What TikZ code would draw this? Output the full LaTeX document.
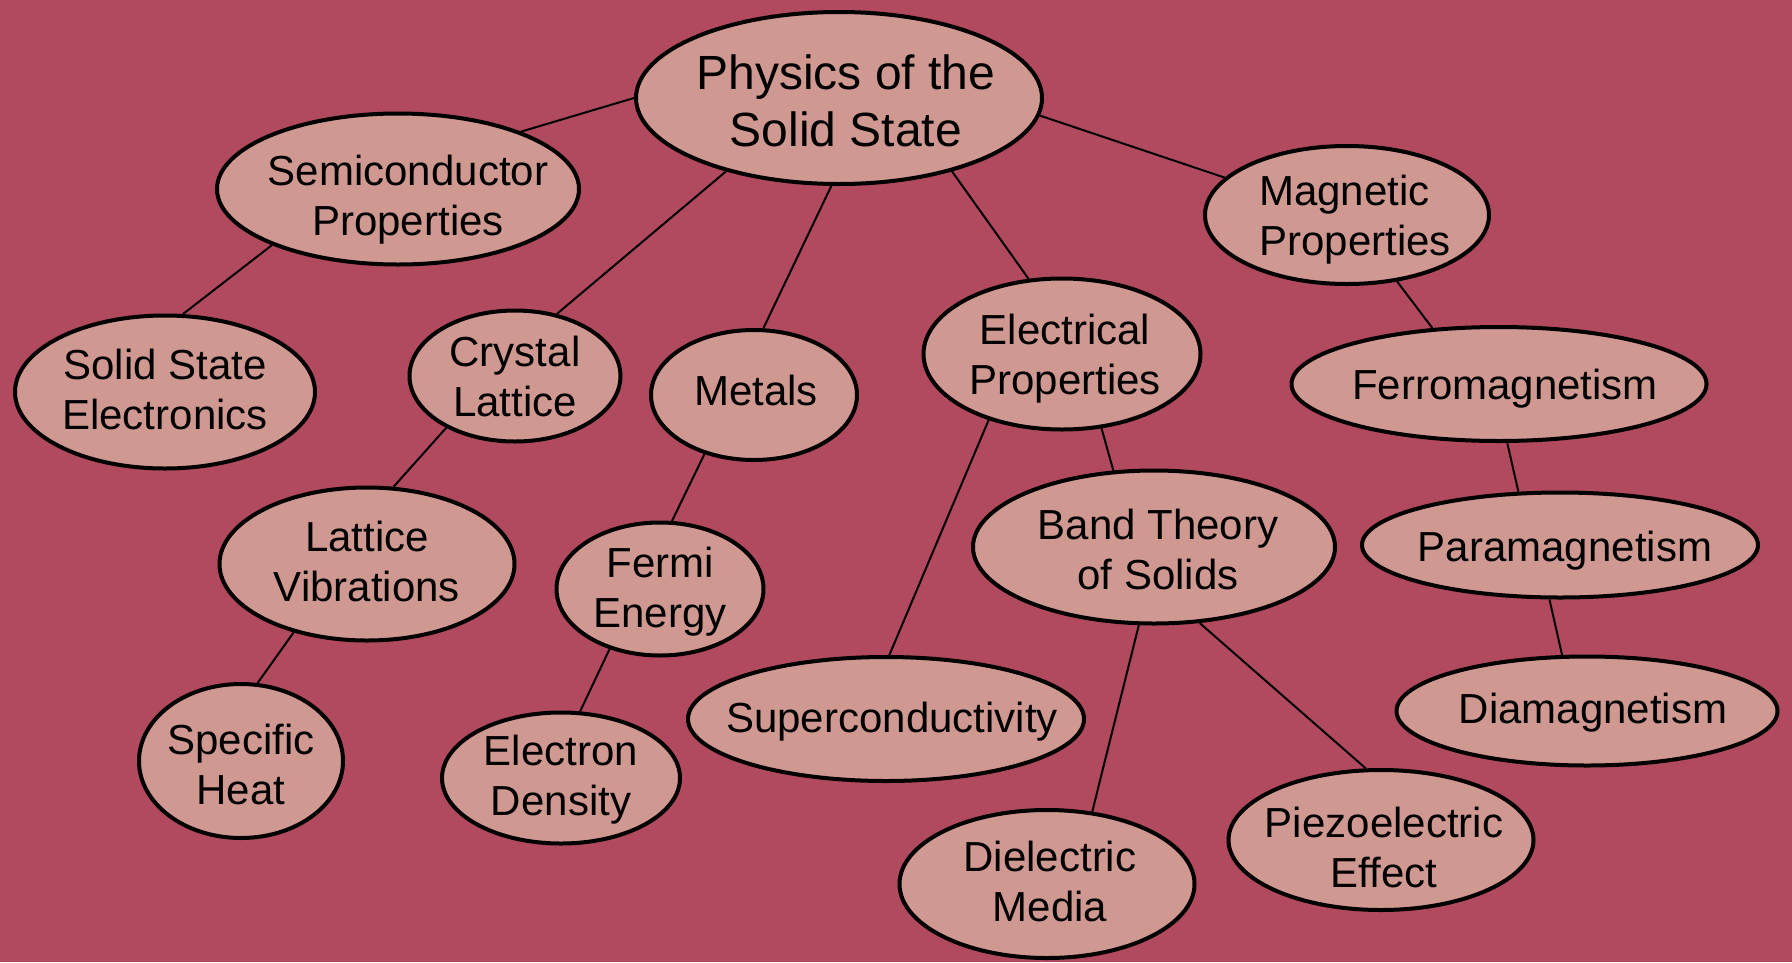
\documentclass[tikz,border=0pt]{standalone}
\usepackage{fontspec}
\setmainfont{Liberation Sans}
\usepackage{tikz}
\usetikzlibrary{shapes.geometric,backgrounds}
\definecolor{wine}{HTML}{B14A5E}
\definecolor{rosefill}{HTML}{CF9891}
\tikzset{
  % ellipser
  topic/.style={ellipse,draw=black,fill=rosefill,line width=4pt,inner sep=0pt},
  tl/.style={align=center,inner sep=0pt,font=\fontsize{42}{50}\selectfont},
  rootl/.style={tl,font=\fontsize{48}{57}\selectfont},
  % kanter
  link/.style={draw=black,line width=2pt},
}
\begin{document}
\begin{tikzpicture}[x=1pt,y=-1pt]
  \useasboundingbox (0,0) rectangle (1792,962);
  \node[topic,minimum width=406,minimum height=172,label={[rootl,xshift=7pt,yshift=-3pt]center:Physics of the\\Solid State}] (phys) at (839,98) {};
  \node[topic,minimum width=362,minimum height=151,label={[tl,xshift=10pt,yshift=-11pt]center:Semiconductor\\Properties}] (semi) at (398,189) {};
  \node[topic,minimum width=284,minimum height=138,label={[tl,align=left,xshift=8pt,yshift=-5pt]center:Magnetic\\Properties}] (magn) at (1347,215) {};
  \node[topic,minimum width=300,minimum height=153,label={[tl,yshift=3pt]center:Solid State\\Electronics}] (sse) at (165,392) {};
  \node[topic,minimum width=211,minimum height=131,label={[tl]center:Crystal\\Lattice}] (crys) at (515,376) {};
  \node[topic,minimum width=206,minimum height=130,label={[tl,xshift=2pt,yshift=5pt]center:Metals}] (metal) at (754,395) {};
  \node[topic,minimum width=277,minimum height=151,label={[tl,xshift=3pt,yshift=-5pt]center:Electrical\\Properties}] (elec) at (1062,354) {};
  \node[topic,minimum width=415,minimum height=114,label={[tl,xshift=6pt,yshift=-5pt]center:Ferromagnetism}] (ferro) at (1499,384) {};
  \node[topic,minimum width=295,minimum height=153,label={[tl,yshift=3pt]center:Lattice\\Vibrations}] (latv) at (367,564) {};
  \node[topic,minimum width=207,minimum height=133,label={[tl,yshift=-3pt]center:Fermi\\Energy}] (fermi) at (660,589) {};
  \node[topic,minimum width=362,minimum height=153,label={[tl,xshift=4pt,yshift=-2pt]center:Band Theory\\of Solids}] (band) at (1154,547) {};
  \node[topic,minimum width=396,minimum height=105,label={[tl,xshift=5pt,yshift=-6pt]center:Paramagnetism}] (para) at (1560,545) {};
  \node[topic,minimum width=396,minimum height=124,label={[tl,xshift=6pt,yshift=-3pt]center:Superconductivity}] (super) at (886,719) {};
  \node[topic,minimum width=381,minimum height=109,label={[tl,xshift=6pt,yshift=-2pt]center:Diamagnetism}] (dia) at (1587,711) {};
  \node[topic,minimum width=204,minimum height=154,label={[tl,yshift=-3pt]center:Specific\\Heat}] (spec) at (241,761) {};
  \node[topic,minimum width=238,minimum height=131,label={[tl,yshift=-2pt]center:Electron\\Density}] (eden) at (561,778) {};
  \node[topic,minimum width=295,minimum height=148,label={[tl,xshift=3pt,yshift=3pt]center:Dielectric\\Media}] (diel) at (1047,884) {};
  \node[topic,minimum width=305,minimum height=140,label={[tl,xshift=3pt,yshift=-7pt]center:Piezoelectric\\Effect}] (piezo) at (1381,840) {};
  \begin{scope}[on background layer]
  \fill[wine] (0,0) rectangle (1792,962);
  \draw[link] (phys.180) -- (semi.25);
  \draw[link] (phys.-5) -- (magn.163);
  \draw[link] (phys.213) -- (crys.56);
  \draw[link] (phys.265) -- (metal.82);
  \draw[link] (phys.327) -- (elec.114);
  \draw[link] (semi.204) -- (sse.77);
  \draw[link] (crys.217) -- (latv.71);
  \draw[link] (latv.223) -- (spec.78);
  \draw[link] (metal.230) -- (fermi.80);
  \draw[link] (fermi.230) -- (eden.74);
  \draw[link] (elec.222) -- (super.87);
  \draw[link] (elec.298) -- (band.118);
  \draw[link] (band.259) -- (diel.58);
  \draw[link] (band.301) -- (piezo.102);
  \draw[link] (magn.307) -- (ferro.140);
  \draw[link] (ferro.278) -- (para.128);
  \draw[link] (para.259) -- (dia.114);
  \end{scope}
\end{tikzpicture}
\end{document}
